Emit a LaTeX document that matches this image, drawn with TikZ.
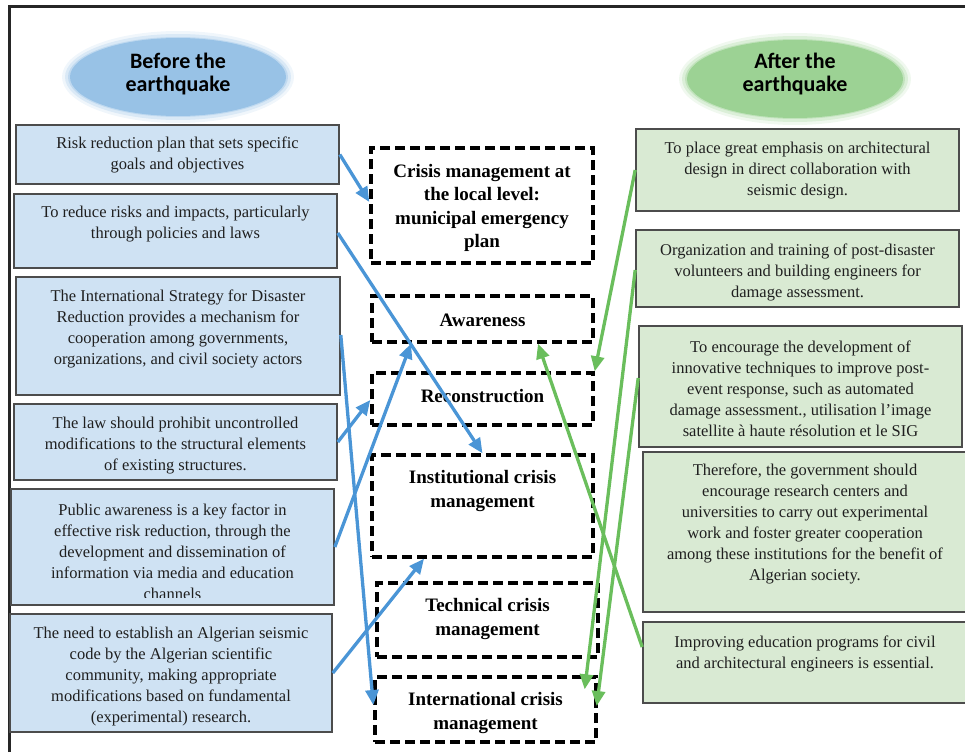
\documentclass[tikz,border=0pt]{standalone}
\usepackage{fontspec}
\setmainfont{Liberation Serif}
\newfontfamily\hdfont{Carlito}
\usetikzlibrary{arrows.meta,calc}
\definecolor{bluefill}{RGB}{207,226,243}
\definecolor{greenfill}{RGB}{217,234,211}
\definecolor{ellblue}{RGB}{152,194,230}
\definecolor{ellgreen}{RGB}{156,210,148}
\definecolor{arrowblue}{RGB}{74,149,214}
\definecolor{arrowgreen}{RGB}{106,190,92}
\begin{document}
\begin{tikzpicture}[x=1pt,y=-1pt,
  boxtxt/.style={align=center, inner sep=0pt, text=black!88,
    font=\fontsize{16.5}{21}\selectfont},
  hdtxt/.style={align=center, inner sep=0pt,
    font=\hdfont\bfseries\fontsize{22}{23.5}\selectfont},
  bluebox/.style={draw=black!70, line width=1.6pt, fill=bluefill, inner sep=0pt},
  greenbox/.style={draw=black!70, line width=1.6pt, fill=greenfill, inner sep=0pt},
  crisisbox/.style={draw=black, line width=3.4pt, dash pattern=on 10pt off 5pt, inner sep=0pt},
  crisistxt/.style={align=center, inner sep=0pt,
    font=\fontsize{19}{23.5}\selectfont\bfseries},
  blink/.style={draw=arrowblue, line width=3.3pt, -{Triangle[length=15pt,width=13pt]}},
  glink/.style={draw=arrowgreen, line width=3.3pt, -{Triangle[length=15pt,width=13pt]}},
]
\useasboundingbox (0,0) rectangle (965,752);

% outer frame (top and left edges)
\draw[line width=3pt, black!85] (9,752) -- (9,7) -- (965,7);

% soft-edged header ellipses
\foreach \d/\o in {10/0.15, 7/0.25, 4/0.4}{
  \fill[ellblue, opacity=\o] (178,77) ellipse [x radius=106+\d, y radius=36+\d];
  \fill[ellgreen, opacity=\o] (795,79) ellipse [x radius=106+\d, y radius=36+\d];
}
\fill[ellblue] (178,77) ellipse [x radius=108, y radius=39];
\fill[ellgreen] (795,79) ellipse [x radius=108, y radius=39];
\node[hdtxt] (before) at (178,74) {Before the\\earthquake};
\node[hdtxt] (after) at (795,74) {After the\\earthquake};

% measures taken before the earthquake
\node[bluebox, minimum width=323, minimum height=59] (b1) at (177.5,154.5) {};
\node[boxtxt] (b1t) at (177.5,155) {Risk reduction plan that sets specific\\goals and objectives};
\node[bluebox, minimum width=323, minimum height=74] (b2) at (175.5,231) {};
\node[boxtxt] (b2t) at (175.5,224) {To reduce risks and impacts, particularly\\through policies and laws};
\node[bluebox, minimum width=324, minimum height=118] (b3) at (178,336) {};
\node[boxtxt] (b3t) at (178,329) {The International Strategy for Disaster\\Reduction provides a mechanism for\\cooperation among governments,\\organizations, and civil society actors};
\node[bluebox, minimum width=323, minimum height=76] (b4) at (175.5,442) {};
\begin{scope}
  \clip (14,404) rectangle (337,473);
  \node[boxtxt] (b4t) at (175.5,446) {The law should prohibit uncontrolled\\modifications to the structural elements\\of existing structures.};
\end{scope}
\node[bluebox, minimum width=323, minimum height=116] (b5) at (172.5,547) {};
\begin{scope}
  \clip (11,489) rectangle (334,597);
  \node[boxtxt] (b5t) at (172.5,552) {Public awareness is a key factor in\\effective risk reduction, through the\\development and dissemination of\\information via media and education\\channels};
\end{scope}
\node[bluebox, minimum width=322, minimum height=118] (b6) at (171,673) {};
\begin{scope}
  \clip (10,614) rectangle (332,725);
  \node[boxtxt] (b6t) at (171,677) {The need to establish an Algerian seismic\\code by the Algerian scientific\\community, making appropriate\\modifications based on fundamental\\(experimental) research.};
\end{scope}

% measures taken after the earthquake
\node[greenbox, minimum width=323, minimum height=82] (g1) at (797.5,170) {};
\node[boxtxt] (g1t) at (797.5,171) {To place great emphasis on architectural\\design in direct collaboration with\\seismic design.};
\node[greenbox, minimum width=323, minimum height=77] (g2) at (797.5,268.5) {};
\node[boxtxt] (g2t) at (797.5,272) {Organization and training of post-disaster\\volunteers and building engineers for\\damage assessment.};
\node[greenbox, minimum width=323, minimum height=121] (g3) at (800.5,386.5) {};
\node[boxtxt] (g3t) at (800.5,389) {To encourage the development of\\innovative techniques to improve post-\\event response, such as automated\\damage assessment., utilisation l'image\\satellite à haute résolution et le SIG};
\node[greenbox, minimum width=324, minimum height=160] (g4) at (805,532) {};
\node[boxtxt] (g4t) at (805,523.5) {Therefore, the government should\\encourage research centers and\\universities to carry out experimental\\work and foster greater cooperation\\among these institutions for the benefit of\\Algerian society.};
\node[greenbox, minimum width=324, minimum height=81] (g5) at (805,662.5) {};
\node[boxtxt] (g5t) at (805,653.5) {Improving education programs for civil\\and architectural engineers is essential.};

% crisis management levels
\node[crisisbox, minimum width=222, minimum height=115] (loc) at (482,205.5) {};
\node[crisistxt] (loct) at (482,208) {Crisis management at\\the local level:\\municipal emergency\\plan};
\node[crisisbox, minimum width=221, minimum height=46] (aw) at (482.5,319) {};
\node[crisistxt] (awt) at (482.5,320) {Awareness};
\node[crisisbox, minimum width=221, minimum height=52] (rec) at (482.5,399) {};
\node[crisistxt] (rect) at (482.5,396) {Reconstruction};
\node[crisisbox, minimum width=221, minimum height=102] (inst) at (482.5,506) {};
\node[crisistxt] (instt) at (482.5,491) {Institutional crisis\\management};
\node[crisisbox, minimum width=221, minimum height=74] (tech) at (487.5,620) {};
\node[crisistxt] (techt) at (487.5,619) {Technical crisis\\management};
\node[crisisbox, minimum width=221, minimum height=65] (intl) at (485.5,709.5) {};
\begin{scope}
  \clip (375,677) rectangle (596,735);
  \node[crisistxt] (intlt) at (485.5,713) {International crisis\\management};
\end{scope}

% links from the "before" measures
\draw[blink] (b1.east) -- ([yshift=3.5pt]loc.west);
\draw[blink] ([yshift=-2pt]b2.east) -- (inst.north);
\draw[blink] ([yshift=1pt]b3.east) -- ([yshift=4.5pt]intl.west);
\draw[blink] (b4.east) -- ([yshift=-1pt]rec.west);
\draw[blink] (b5.east) -- ([xshift=-71.5pt]aw.south);
\draw[blink] (b6.east) -- ([xshift=-58.5pt]inst.south);

% links from the "after" measures
\draw[glink] (g1.west) -- (rec.north east);
\draw[glink] ([yshift=-1.5pt]g2.west) -- ([xshift=-13pt,yshift=-14pt]intl.north east);
\draw[glink] ([yshift=8.5pt]g3.west) -- ([xshift=-1pt,yshift=3.5pt]intl.east);
\draw[glink] ([yshift=15.5pt]g5.west) -- ([xshift=55.5pt]aw.south);
\end{tikzpicture}
\end{document}
